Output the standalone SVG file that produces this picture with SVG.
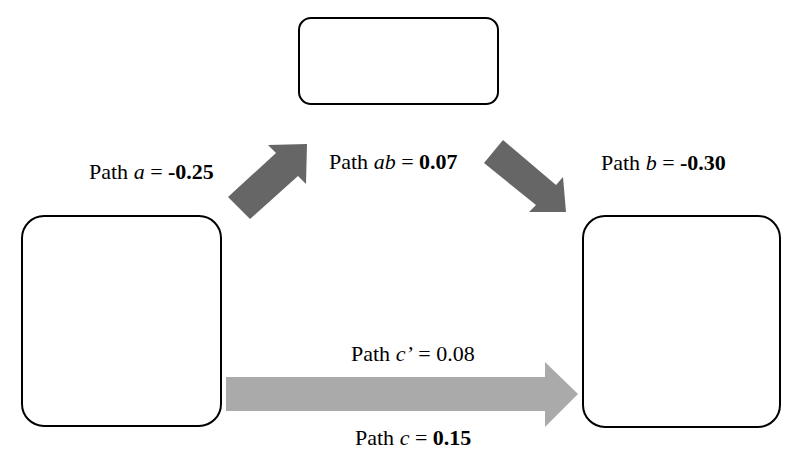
<svg xmlns="http://www.w3.org/2000/svg" width="802" height="458" viewBox="0 0 802 458">
<style>
.box{fill:#fff;stroke:#000;stroke-width:2}
.dark{fill:#666666}
.light{fill:#aaaaaa}
text{font-family:"Liberation Serif","Times New Roman",Times,serif;font-size:22px;fill:#000}
.i{font-style:italic}
.b{font-weight:bold}
</style>
<rect width="802" height="458" fill="#fff"/>
<g id="connectors">
<polygon id="arrow-a" class="dark" points="228,197 276,153 268,145 307,144 306,184 298,176 250,219"/>
<polygon id="arrow-b" class="dark" points="484,163 503,140 556,185 563,177 566,212 529,212 536,205"/>
<polygon id="arrow-c" class="light" points="226,377 545,377 545,362 578,394 545,427 545,411 226,411"/>
</g>
<g id="node-top"><rect class="box" x="299" y="18" width="199" height="86" rx="12"/></g>
<g id="node-left"><rect class="box" x="22" y="216" width="199" height="210" rx="22"/></g>
<g id="node-right"><rect class="box" x="583" y="216" width="197" height="211" rx="22"/></g>
<g id="labels">
<text x="89" y="179" font-family="Liberation Serif, serif">Path <tspan class="i">a</tspan> = <tspan class="b">-0.25</tspan></text>
<text x="329" y="169" font-family="Liberation Serif, serif">Path <tspan class="i">ab</tspan> = <tspan class="b">0.07</tspan></text>
<text x="601" y="170" font-family="Liberation Serif, serif">Path <tspan class="i">b</tspan> = <tspan class="b">-0.30</tspan></text>
<text x="351" y="361" font-family="Liberation Serif, serif">Path <tspan class="i">c’</tspan> = 0.08</text>
<text x="355" y="445" font-family="Liberation Serif, serif">Path <tspan class="i">c</tspan> = <tspan class="b">0.15</tspan></text>
</g>
</svg>
